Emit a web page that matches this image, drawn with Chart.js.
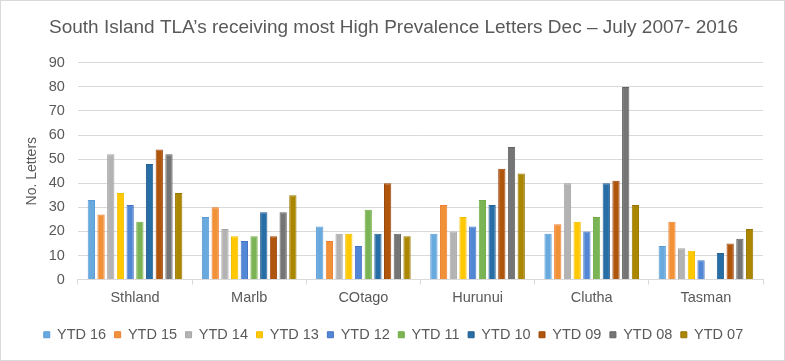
<!DOCTYPE html>
<html>
<head>
<meta charset="utf-8">
<script src="https://cdn.jsdelivr.net/npm/chart.js@4"></script>
<style>
  html, body { margin: 0; padding: 0; background: #fff; }
  #wrap { position: absolute; left: 0; top: 0; width: 783px; height: 359px; border: 1px solid #d9d9d9; }
</style>
</head>
<body>
<div id="wrap"><canvas id="chart" width="783" height="359"></canvas></div>
<script>
const categories = ["Sthland", "Marlb", "COtago", "Hurunui", "Clutha", "Tasman"];
const seriesNames = ["YTD 16", "YTD 15", "YTD 14", "YTD 13", "YTD 12", "YTD 11", "YTD 10", "YTD 09", "YTD 08", "YTD 07"];
const ytd16 = [33, 26, 22, 19, 19, 14];
const ytd15 = [27, 30, 16, 31, 23, 24];
const ytd14 = [52, 21, 19, 20, 40, 13];
const ytd13 = [36, 18, 19, 26, 24, 12];
const ytd12 = [31, 16, 14, 22, 20, 8];
const ytd11 = [24, 18, 29, 33, 26, 0];
const ytd10 = [48, 28, 19, 31, 40, 11];
const ytd09 = [54, 18, 40, 46, 41, 15];
const ytd08 = [52, 28, 19, 55, 80, 17];
const ytd07 = [36, 35, 18, 44, 31, 21];
const yTicks = [0, 10, 20, 30, 40, 50, 60, 70, 80, 90];

const fills = ["#68aade", "#f29238", "#b3b3b3", "#ffc800", "#5287d6", "#7bb454", "#276ea6", "#b0560c", "#757575", "#ab8700"];
const borders = ["#5b9bd5", "#ed7d31", "#a5a5a5", "#f2bd00", "#4472c4", "#70ad47", "#255e91", "#9e480e", "#636363", "#997300"];
const allData = [ytd16, ytd15, ytd14, ytd13, ytd12, ytd11, ytd10, ytd09, ytd08, ytd07];

function initChart() {
    const ctx = document.getElementById("chart").getContext('2d');
    new Chart(ctx, {
        type: 'bar',
        data: {
            labels: categories,
            datasets: seriesNames.map((name, i) => ({
                label: name,
                data: allData[i],
                backgroundColor: fills[i],
                borderColor: borders[i],
                borderWidth: 1
            }))
        },
        options: {
            responsive: false,
            animation: false,
            layout: { padding: { left: 23, right: 21, top: 0, bottom: 8 } },
            datasets: { bar: { categoryPercentage: 0.85, barPercentage: 0.75 } },
            plugins: {
                title: {
                    display: true,
                    text: "South Island TLA\u2019s receiving most High Prevalence Letters Dec \u2013 July 2007- 2016",
                    color: '#595959',
                    font: { family: 'Liberation Sans', size: 19, weight: 'normal' },
                    padding: { top: 15, bottom: 24 }
                },
                legend: {
                    position: 'bottom',
                    labels: {
                        color: '#595959',
                        font: { family: 'Liberation Sans', size: 14.5 },
                        boxWidth: 6,
                        boxHeight: 6,
                        padding: 8.5
                    }
                },
                tooltip: { enabled: false }
            },
            scales: {
                x: {
                    afterFit: axis => { axis.height += 7; },
                    grid: { drawOnChartArea: false, offset: true, tickLength: 5, color: '#d9d9d9' },
                    border: { color: '#d9d9d9' },
                    ticks: { color: '#595959', padding: 5, font: { family: 'Liberation Sans', size: 14.5 } }
                },
                y: {
                    min: 0,
                    max: yTicks[yTicks.length - 1],
                    afterBuildTicks: axis => { axis.ticks = yTicks.map(v => ({ value: v })); },
                    grid: { color: '#d9d9d9', drawTicks: false },
                    border: { display: false },
                    ticks: { color: '#595959', padding: 13, font: { family: 'Liberation Sans', size: 14.5 } },
                    title: {
                        display: true,
                        text: 'No. Letters',
                        color: '#595959',
                        font: { family: 'Liberation Sans', size: 14 },
                        padding: { top: 0, bottom: -5 }
                    }
                }
            }
        }
    });
}

window.onload = () => { initChart(); };
</script>
</body>
</html>
